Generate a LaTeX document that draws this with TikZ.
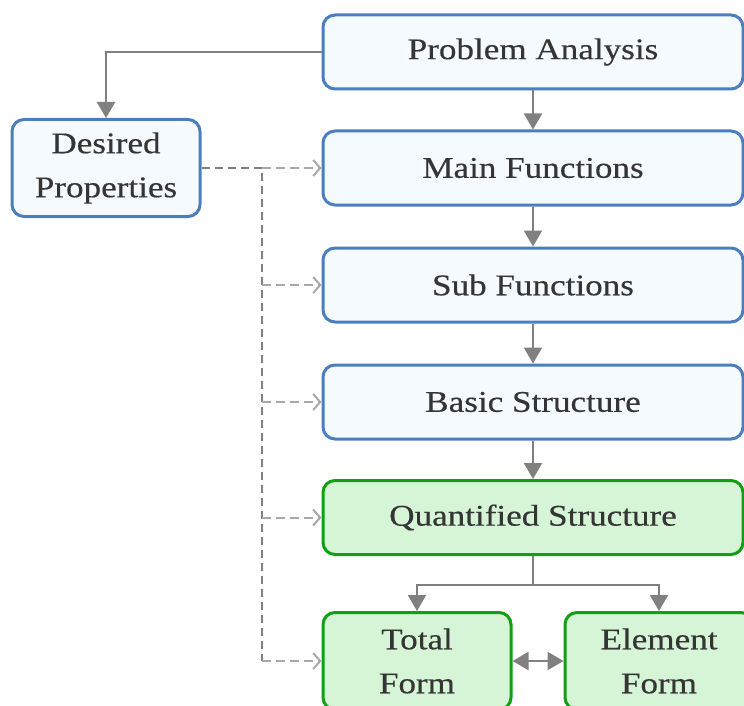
\documentclass[tikz,border=0pt]{standalone}
\usepackage{fontspec}
\setmainfont[FakeStretch=1.17,FakeBold=0.4]{Liberation Serif}
\usetikzlibrary{arrows.meta}
\definecolor{bborder}{HTML}{4A7EBF}
\definecolor{bfill}{HTML}{F5FAFF}
\definecolor{gborder}{HTML}{12A012}
\definecolor{gfill}{HTML}{D6F4D6}
\definecolor{txt}{HTML}{353535}
\definecolor{con}{HTML}{808080}
\definecolor{dcon}{HTML}{A8A8A8}
\tikzset{
  basebox/.style={rounded corners=12pt, line width=3pt, text=txt, align=center,
    font=\fontsize{30}{44}\selectfont, inner sep=0pt},
  bluebox/.style={basebox, draw=bborder, fill=bfill},
  greenbox/.style={basebox, draw=gborder, fill=gfill},
  arr/.style={draw=con, line width=2.2pt, -{Triangle[width=18pt,length=16pt]}},
  plainline/.style={draw=con, line width=2.2pt},
  dualarr/.style={draw=con, line width=2.2pt, {Triangle[width=18pt,length=16pt]}-{Triangle[width=18pt,length=16pt]}},
  dashline/.style={draw=con, line width=1.5pt, dash pattern=on 8pt off 5pt},
  dasharr/.style={draw=dcon, line width=2pt, dash pattern=on 9pt off 5pt, -{Straight Barb[length=7pt,width=16pt,line width=2pt]}},
}
\begin{document}
\begin{tikzpicture}[x=1pt,y=-1pt]
\clip (0,0) rectangle (744,706);
\useasboundingbox (0,0) rectangle (744,706);
\node[bluebox, minimum width=420pt, minimum height=74pt] (pa) at (533,52) {\raisebox{-3pt}{Problem Analysis}};
\node[bluebox, minimum width=420pt, minimum height=74pt] (mf) at (533,168) {\raisebox{-3pt}{Main Functions}};
\node[bluebox, minimum width=420pt, minimum height=74pt] (sf) at (533,285) {\raisebox{-3pt}{Sub Functions}};
\node[bluebox, minimum width=420pt, minimum height=74pt] (bs) at (533,402) {\raisebox{-3pt}{Basic Structure}};
\node[greenbox, minimum width=420pt, minimum height=74pt] (qs) at (533,517.5) {\raisebox{-3pt}{Quantified Structure}};
\node[bluebox, minimum width=188pt, minimum height=97pt] (dp) at (106,168) {Desired\\Properties};
\node[greenbox, minimum width=188pt, minimum height=97pt] (tf) at (417,661) {Total\\Form};
\node[greenbox, minimum width=188pt, minimum height=97pt] (ef) at (659,661) {Element\\Form};
\draw[arr] (pa.west) -| (dp.north);
\draw[arr] (pa) -- (mf);
\draw[arr] (mf) -- (sf);
\draw[arr] (sf) -- (bs);
\draw[arr] (bs) -- (qs);
\coordinate (split) at (533,585);
\draw[plainline] (qs.south) -- (split);
\draw[arr] (split) -| (tf.north);
\draw[arr] (split) -| (ef.north);
\draw[dualarr] (tf.east) -- (ef.west);
\coordinate (j) at (262,168);
\draw[dashline] (dp.east) -- (j) -- (j |- tf.west);
\draw[dasharr] (j) -- (mf.west);
\draw[dasharr] (j |- sf.west) -- (sf.west);
\draw[dasharr] (j |- bs.west) -- (bs.west);
\draw[dasharr] (j |- qs.west) -- (qs.west);
\draw[dasharr] (j |- tf.west) -- (tf.west);
\end{tikzpicture}
\end{document}
